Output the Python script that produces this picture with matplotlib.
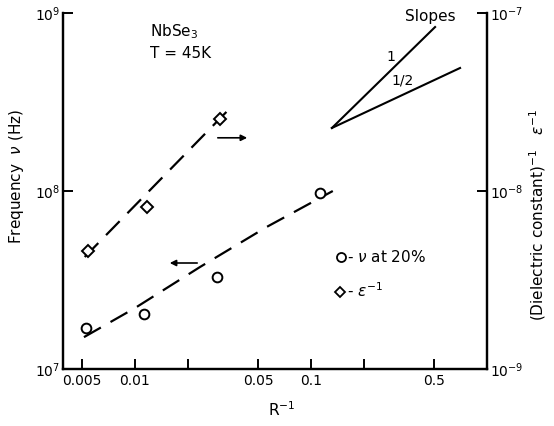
import matplotlib
matplotlib.use("Agg")
import matplotlib.pyplot as plt
from matplotlib.ticker import FixedLocator, FixedFormatter, NullLocator

plt.rcParams['font.family'] = ['DejaVu Sans']
plt.rcParams['lines.scale_dashes'] = False

# Data
nu_x = [0.00527, 0.01125, 0.0292, 0.1125]
nu_y = [1.70e7, 2.04e7, 3.29e7, 9.7e7]
eps_x = [0.0054, 0.0117, 0.0304]
eps_y = [4.6e-9, 8.1e-9, 2.54e-8]

nu_fit_x = [0.00513, 0.0100, 0.0234, 0.056, 0.133]
nu_fit_y = [1.51e7, 2.20e7, 3.74e7, 6.28e7, 1.00e8]
eps_fit_x = [0.00518, 0.0347]
eps_fit_y = [4.26e-9, 2.92e-8]

slope_vertex = (0.1315, 2.26e8)
slope1_end = (0.507, 8.34e8)
slope_half_end = (0.703, 4.91e8)

xticks = [0.005, 0.01, 0.02, 0.05, 0.1, 0.2, 0.5]
xticklabels = ['0.005', '0.01', '', '0.05', '0.1', '', '0.5']

W, H = 554, 426
fig = plt.figure(figsize=(W / 100, H / 100), dpi=100)
ax = fig.add_axes([63 / W, 1 - 369 / H, (487 - 63) / W, (369 - 13) / H])
ax2 = ax.twinx()

for a in (ax, ax2):
    a.set_xscale('log')
    a.set_yscale('log')
    a.spines['top'].set_visible(False)
    for s in a.spines.values():
        s.set_linewidth(1.6)

ax.set_xlim(0.0039, 1.0)
ax.set_ylim(1e7, 1e9)
ax2.set_ylim(1e-9, 1e-7)

ax.xaxis.set_major_locator(FixedLocator(xticks))
ax.xaxis.set_major_formatter(FixedFormatter(xticklabels))
ax.xaxis.set_minor_locator(NullLocator())
ax.yaxis.set_major_locator(FixedLocator([1e7, 1e8, 1e9]))
ax.yaxis.set_minor_locator(NullLocator())
ax2.yaxis.set_major_locator(FixedLocator([1e-9, 1e-8, 1e-7]))
ax2.yaxis.set_minor_locator(NullLocator())

ax.tick_params(axis='both', direction='in', length=7, width=1.4, labelsize=10)
ax2.tick_params(axis='y', direction='in', length=7, width=1.4, labelsize=10)
ax.tick_params(axis='y', pad=2)
ax2.tick_params(axis='y', pad=2)

# Fit lines
ax.plot(nu_fit_x, nu_fit_y, color='black', lw=1.6, dashes=(14, 8))
ax2.plot(eps_fit_x, eps_fit_y, color='black', lw=1.6, dashes=(14, 8))

# Data points
ax.plot(nu_x, nu_y, 'o', mfc='white', mec='black', ms=7, mew=1.4, zorder=5)
ax2.plot(eps_x, eps_y, 'D', mfc='white', mec='black', ms=6, mew=1.4, zorder=5)

# Slope indicator
ax.plot([slope_vertex[0], slope1_end[0]], [slope_vertex[1], slope1_end[1]], color='black', lw=1.5)
ax.plot([slope_vertex[0], slope_half_end[0]], [slope_vertex[1], slope_half_end[1]], color='black', lw=1.5)

# Arrows
ax.annotate('', xy=(0.045, 1.99e8), xytext=(0.0285, 1.99e8),
            arrowprops=dict(arrowstyle='-|>', color='black', lw=1.2, mutation_scale=9))
ax.annotate('', xy=(0.0152, 3.94e7), xytext=(0.0234, 3.94e7),
            arrowprops=dict(arrowstyle='-|>', color='black', lw=1.2, mutation_scale=9))

def ft(x, y, s, **kw):
    fig.text(x / W, 1 - y / H, s, **kw)

ft(150, 32, 'NbSe$_3$', fontsize=11, va='center', ha='left')
ft(150, 54, 'T = 45K', fontsize=11, va='center', ha='left')
ft(430, 17, 'Slopes', fontsize=11, va='center', ha='center')
ft(391, 57, '1', fontsize=10, va='center', ha='center')
ft(403, 81, '1/2', fontsize=10, va='center', ha='center')

# Legend
ax.plot([341 / W], [1 - 257 / H], 'o', mfc='white', mec='black', ms=6.5, mew=1.3,
        transform=fig.transFigure, clip_on=False)
ft(347, 257, '- $\\nu$ at 20%', fontsize=11, va='center', ha='left')
ax.plot([340 / W], [1 - 292 / H], 'D', mfc='white', mec='black', ms=5.5, mew=1.3,
        transform=fig.transFigure, clip_on=False)
ft(347, 291, '- $\\epsilon^{-1}$', fontsize=11, va='center', ha='left')

# Axis labels
ft(17, 176, 'Frequency  $\\nu$ (Hz)', fontsize=11, rotation=90, va='center', ha='center')
ft(538, 215, '(Dielectric constant)$^{-1}$   $\\epsilon^{-1}$', fontsize=11, rotation=90,
   va='center', ha='center')
ft(282, 410, 'R$^{-1}$', fontsize=11, va='center', ha='center')

fig.savefig('out.png', dpi=100)
